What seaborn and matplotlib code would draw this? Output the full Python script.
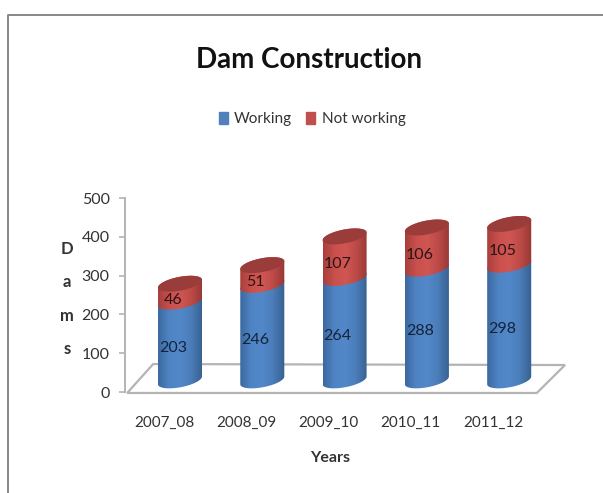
import numpy as np
import matplotlib
matplotlib.use('Agg')
import matplotlib.pyplot as plt
from matplotlib.colors import LinearSegmentedColormap
from matplotlib.lines import Line2D
from matplotlib.patches import PathPatch, Polygon, Patch
from matplotlib.path import Path
from matplotlib.transforms import ScaledTranslation
import seaborn as sns

years = ['2007_08', '2008_09', '2009_10', '2010_11', '2011_12']
working = np.array([203, 246, 264, 288, 298])
not_working = np.array([46, 51, 107, 106, 105])

W, H = 603, 493
BLUE = '#4f81bd'
RED = '#c0504d'
TEXT = '#333333'

sns.set_theme(style='white')
plt.rcParams['font.family'] = ['Lato', 'DejaVu Sans']

fig = plt.figure(figsize=(W / 100, H / 100), dpi=100)

# axes box in pixels of the picture
left, right, top, bottom = 125, 565, 198, 392
ax = fig.add_axes([left / W, 1 - bottom / H, (right - left) / W, (bottom - top) / H])

# the 3D look lifts the bars off the zero line
lift = 30

sns.barplot(x=years, y=working, bottom=lift, color=BLUE, width=0.535,
            saturation=1, ax=ax)
n = len(ax.patches)
sns.barplot(x=years, y=not_working, bottom=lift + working, color=RED, width=0.535,
            saturation=1, ax=ax)

ax.set_xlim(-0.668, 4.678)
ax.set_ylim(0, 500)
ax.set_yticks([0, 100, 200, 300, 400, 500])

blue_cm = LinearSegmentedColormap.from_list('b', ['#3c69a0', '#4f84c4', '#5288c9', '#4a7cb8', '#37608f'])
red_cm = LinearSegmentedColormap.from_list('r', ['#a83f3c', '#c9504d', '#d05653', '#bc4a47', '#963836'])
shade = np.linspace(0, 1, 64).reshape(1, -1)


def rim(cx, cy, a, b, s, t):
    # sheared ellipse, tilted so the right side sits higher
    return np.column_stack([cx + a * np.cos(t), cy + b * np.sin(t) + s * np.cos(t)])


def section(patch, cmap, cap=None):
    x0 = patch.get_x()
    w = patch.get_width()
    y0 = patch.get_y()
    y1 = y0 + patch.get_height()
    cx = x0 + w / 2
    a, b, s = w / 2, 18, 10
    low = rim(cx, y0, a, b, s, np.linspace(np.pi, 2 * np.pi, 40))
    up = rim(cx, y1, a, b, s, np.linspace(0, np.pi, 40))
    verts = np.vstack([low, up, low[:1]])
    shape = PathPatch(Path(verts), transform=ax.transData, fc='none', ec='none')
    ax.add_patch(shape)
    im = ax.imshow(shade, cmap=cmap, extent=[x0, x0 + w, y0 - b - s, y1 + b + s],
                   aspect='auto', zorder=3, interpolation='bilinear')
    im.set_clip_path(shape)
    if cap is not None:
        ring = rim(cx, y1, a, b, s, np.linspace(0, 2 * np.pi, 80))
        ax.add_patch(Polygon(ring, closed=True, fc=cap, ec='none', zorder=4))
    patch.set_visible(False)


for p in ax.patches[:n]:
    section(p, blue_cm)
for p in list(ax.patches[n:n + len(years)]):
    section(p, red_cm, cap='#9a3d3a')

ax.set_xlim(-0.668, 4.678)
ax.set_ylim(0, 500)

# floor of the 3D chart, in axes fractions
floor = [(0.005, -0.005), (0.064, 0.144), (1.0, 0.139), (0.936, -0.005)]
ax.add_patch(Polygon(floor, closed=True, transform=ax.transAxes, fc='white',
                     ec='#b4b4b4', lw=1.6, zorder=1, clip_on=False))

for i, (a_val, b_val) in enumerate(zip(working, not_working)):
    ax.annotate(str(a_val), (i, lift + a_val / 2), xytext=(-5, -5), textcoords='offset points',
                ha='center', va='center', fontsize=11.5, color='#14233a', zorder=6)
    ax.annotate(str(b_val), (i, lift + a_val + b_val / 2), xytext=(-5, -5), textcoords='offset points',
                ha='center', va='center', fontsize=11.5, color='#2a1414', zorder=6)

sns.despine(ax=ax, top=True, right=True, bottom=True)
ax.spines['left'].set_color('#b4b4b4')
ax.spines['left'].set_linewidth(1.4)
ax.tick_params(axis='y', left=True, length=4, color='#b4b4b4', width=1.2, labelsize=11.5,
               labelcolor=TEXT, pad=7)
ax.tick_params(axis='x', bottom=False, labelsize=11, labelcolor=TEXT, pad=11)

# category labels sit left of the bars
shift = ScaledTranslation(-16 / 100, 0, fig.dpi_scale_trans)
for lab in ax.get_xticklabels():
    lab.set_transform(lab.get_transform() + shift)

ax.set_xlabel('Years', fontsize=11.5, fontweight='bold', color=TEXT)
ax.xaxis.set_label_coords((330 - left) / (right - left), -(451 - bottom) / (bottom - top))
ax.set_ylabel('D\na\nm\ns', rotation=0, fontsize=12, fontweight='bold', color=TEXT,
              linespacing=2.34, va='center', ha='center')
ax.yaxis.set_label_coords((67 - left) / (right - left), (bottom - 299) / (bottom - top))

fig.text(309 / W, 1 - 60 / H, 'Dam Construction', ha='center', va='center',
         fontsize=20, fontweight='bold', color='#111111')

handles = [Patch(color=BLUE, label='Working'), Patch(color=RED, label='Not working')]
fig.legend(handles=handles, loc='center', bbox_to_anchor=(312 / W, 1 - 119 / H), ncol=2,
           frameon=False, fontsize=11, handlelength=0.62, handleheight=0.85, handletextpad=0.4,
           columnspacing=0.9, labelcolor=TEXT)

# chart border, only top and left are visible in the picture
fig.add_artist(Line2D([8 / W, 8 / W, 1], [0, 1 - 15 / H, 1 - 15 / H], color='#7f7f7f', lw=1.3))

fig.savefig('out.png', dpi=100)
